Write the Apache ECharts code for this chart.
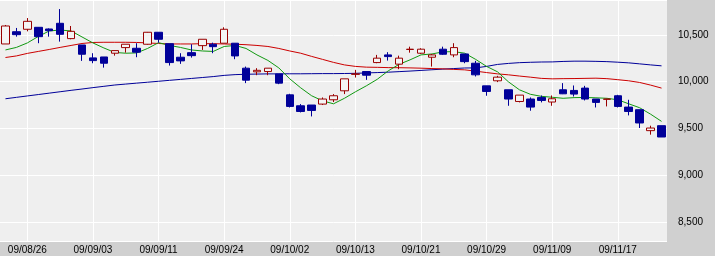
<!DOCTYPE html>
<html>
<head>
<meta charset="utf-8">
<script src="https://cdn.jsdelivr.net/npm/echarts@6/dist/echarts.min.js"></script>
<style>
html,body{margin:0;padding:0;background:#d0d0d0;}
#c{width:715px;height:256px;}
</style>
</head>
<body>
<div id="c"></div>
<script>
const dates = ['09/08/24','09/08/25','09/08/26','09/08/27','09/08/28','09/08/31','09/09/01','09/09/02','09/09/03','09/09/04',
'09/09/07','09/09/08','09/09/09','09/09/10','09/09/11','09/09/14','09/09/15','09/09/16','09/09/17','09/09/18',
'09/09/24','09/09/25','09/09/28','09/09/29','09/09/30','09/10/01','09/10/02','09/10/05','09/10/06','09/10/07',
'09/10/08','09/10/09','09/10/13','09/10/14','09/10/15','09/10/16','09/10/19','09/10/20','09/10/21','09/10/22',
'09/10/23','09/10/26','09/10/27','09/10/28','09/10/29','09/10/30','09/11/02','09/11/04','09/11/05','09/11/06',
'09/11/09','09/11/10','09/11/11','09/11/12','09/11/13','09/11/16','09/11/17','09/11/18','09/11/19','09/11/20','09/11/24'];

const labelDates = ['09/08/26','09/09/03','09/09/11','09/09/24','09/10/02','09/10/13','09/10/21','09/10/29','09/11/09','09/11/17'];

const openP  = [10404,10535,10561,10582,10564,10625,10461,10393,10255,10265,
10305,10365,10358,10401,10529,10407,10262,10311,10386,10401,
10412,10412,10145,10106,10109,10084,9860,9743,9751,9761,
9807,9903,10079,10109,10205,10287,10188,10345,10305,10262,
10348,10287,10297,10198,9956,10010,9914,9789,9815,9832,
9783,9914,9907,9932,9815,9812,9850,9729,9701,9477,9530];
const closeP = [10596,10503,10646,10482,10546,10507,10539,10294,10226,10198,
10333,10401,10316,10529,10454,10205,10223,10279,10454,10375,
10561,10276,10017,10122,10145,9985,9736,9682,9693,9815,
9850,10031,10084,10070,10252,10269,10252,10348,10348,10287,
10294,10365,10215,10074,9896,10049,9815,9857,9729,9800,
9818,9871,9868,9815,9779,9815,9736,9682,9559,9505,9409];
const lowP   = [10404,10482,10539,10412,10482,10429,10454,10223,10198,10151,
10279,10311,10262,10396,10418,10173,10191,10258,10340,10305,
10412,10241,9985,10070,10070,9974,9725,9672,9629,9751,
9783,9868,10045,10020,10198,10226,10134,10311,10297,10162,
10287,10262,10198,10056,9850,9996,9743,9779,9690,9779,
9743,9868,9842,9800,9725,9736,9725,9640,9505,9434,9409];
const highP  = [10607,10575,10681,10585,10570,10777,10596,10393,10305,10265,
10333,10401,10412,10532,10529,10407,10305,10401,10454,10418,
10582,10412,10162,10145,10145,10084,9871,9761,9751,9832,
9868,10031,10127,10109,10287,10316,10279,10375,10358,10297,
10375,10412,10297,10223,9956,10063,9914,9857,9832,9853,
9853,9985,9960,9956,9815,9818,9860,9807,9701,9530,9530];

const ma5 = [10340,10367,10415,10484,10543,10553,10543,10479,10415,10361,
10313,10305,10308,10356,10418,10388,10367,10340,10329,10324,
10377,10388,10356,10287,10228,10148,10031,9935,9850,9796,
9764,9823,9892,9956,10026,10116,10186,10234,10287,10297,
10319,10322,10305,10239,10164,10106,9999,9914,9866,9844,
9834,9823,9830,9832,9828,9823,9807,9764,9722,9653,9576];
const ma25 = [10259,10276,10303,10324,10345,10367,10388,10409,10420,10422,
10422,10422,10420,10415,10409,10404,10404,10404,10407,10407,
10404,10401,10396,10388,10377,10356,10329,10305,10271,10239,
10207,10180,10164,10156,10154,10151,10150,10148,10145,10141,
10138,10132,10127,10113,10098,10084,10074,10061,10049,10036,
10031,10033,10034,10036,10038,10033,10022,10010,9992,9964,9932];
const ma75 = [9818,9833,9848,9863,9878,9893,9908,9922,9937,9951,
9965,9975,9985,9995,10005,10015,10025,10035,10045,10055,
10068,10076,10080,10082,10084,10084,10085,10085,10086,10087,
10087,10088,10090,10094,10098,10102,10108,10114,10121,10128,
10135,10141,10147,10148,10164,10185,10196,10204,10208,10211,
10212,10217,10220,10220,10218,10215,10209,10202,10191,10180,10170];

const yTicks = [8500, 9000, 9500, 10000, 10500];

const candles = dates.map((d, i) => [openP[i], closeP[i], lowP[i], highP[i]]);
const showIdx = (idx) => labelDates.indexOf(dates[idx]) >= 0;

const chart = echarts.init(document.getElementById('c'), null, {renderer: 'canvas'});
chart.setOption({
  animation: false,
  backgroundColor: '#d0d0d0',
  grid: {
    left: -2.45, right: 48, top: 0, bottom: 15,
    show: true, backgroundColor: '#efefef', borderWidth: 0
  },
  xAxis: {
    type: 'category',
    data: dates,
    boundaryGap: true,
    axisLine: {show: false},
    axisTick: {show: false},
    axisLabel: {
      interval: (idx) => showIdx(idx),
      color: '#000',
      fontFamily: 'Liberation Sans',
      fontSize: 10,
      margin: 4
    },
    splitLine: {show: false}
  },
  yAxis: {
    type: 'value',
    position: 'right',
    min: 8297, max: 10874,
    minInterval: 500, maxInterval: 500,
    scale: true,
    axisLine: {show: false},
    axisTick: {show: false},
    axisLabel: {
      showMinLabel: false, showMaxLabel: false,
      margin: 11,
      color: '#000',
      fontFamily: 'Liberation Sans',
      fontSize: 10,
      formatter: (v) => yTicks.indexOf(v) >= 0 ? v.toLocaleString('en-US') : ''
    },
    splitLine: {lineStyle: {color: '#ffffff', width: 1}}
  },
  series: [
    {
      type: 'line', data: [], z: 1, silent: true, symbol: 'none',
      markLine: {
        z: 1,
        silent: true, symbol: ['none', 'none'], label: {show: false},
        lineStyle: {color: '#ffffff', width: 1, type: 'solid'},
        emphasis: {disabled: true},
        animation: false,
        data: labelDates.map(d => ({xAxis: d}))
      }
    },
    {
      type: 'line', data: ma75, showSymbol: false, symbol: 'none',
      lineStyle: {color: '#000099', width: 1}, z: 2, silent: true
    },
    {
      type: 'line', data: ma25, showSymbol: false, symbol: 'none',
      lineStyle: {color: '#cc0000', width: 1}, z: 2, silent: true
    },
    {
      type: 'line', data: ma5, showSymbol: false, symbol: 'none',
      lineStyle: {color: '#119911', width: 1}, z: 2, silent: true
    },
    {
      type: 'candlestick',
      data: candles,
      barWidth: 8,
      z: 3,
      itemStyle: {
        color: '#f4f4f4',
        color0: '#000099',
        borderColor: '#990000',
        borderColor0: '#000099',
        borderWidth: 1
      }
    }
  ]
});
</script>
</body>
</html>
